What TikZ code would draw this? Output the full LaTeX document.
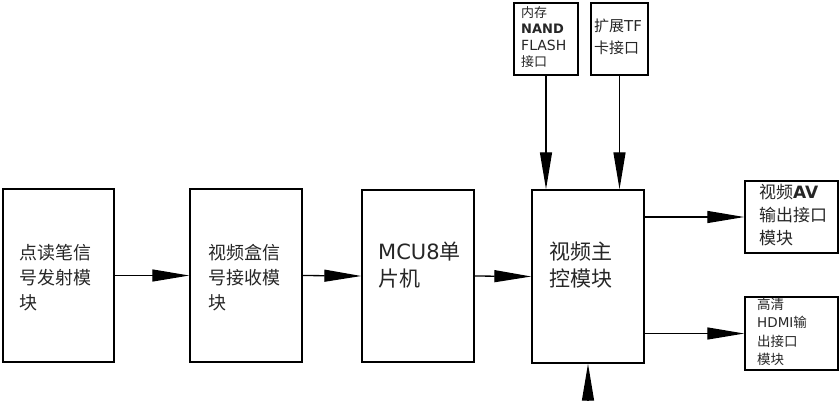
\documentclass[tikz,border=0pt]{standalone}
\usepackage{fontspec}
\setmainfont{Noto Sans CJK SC}
\newfontfamily\lat{DejaVu Sans}
\usetikzlibrary{arrows.meta}
\tikzset{
  blk/.style={draw, line width=1.4pt, rectangle, inner sep=0pt},
  lbl/.style={anchor=north west, align=left, inner sep=0pt, text=black!85},
  arr/.style={line width=1.3pt, -{Triangle[length=37pt,width=12pt]}},
}
\begin{document}
\begin{tikzpicture}[x=1pt,y=-1pt]
\useasboundingbox (0,0) rectangle (840,400);
\clip (0,0) rectangle (840,400);
% boxes
\node[blk, minimum width=111pt, minimum height=173pt] (b1) at (58.5,275.5) {};
\node[blk, minimum width=112pt, minimum height=173pt] (b2) at (246,275.5) {};
\node[blk, minimum width=112pt, minimum height=172pt] (mcu) at (418,276) {};
\node[blk, minimum width=112pt, minimum height=173pt] (main) at (588,276.5) {};
\node[blk, minimum width=64pt, minimum height=72pt] (nand) at (546,39) {};
\node[blk, minimum width=57pt, minimum height=72pt] (tf) at (619.5,39) {};
\node[blk, minimum width=93pt, minimum height=72pt] (av) at (791.5,217) {};
\node[blk, minimum width=93pt, minimum height=73pt] (hdmi) at (791.5,333.5) {};
% texts
\node[lbl, font=\fontsize{18}{25}\selectfont] (t1) at (19,244) {点读笔信\\号发射模\\块};
\node[lbl, font=\fontsize{18}{25}\selectfont] (t2) at (208,244) {视频盒信\\号接收模\\块};
\node[lbl, font=\fontsize{21}{27}\selectfont] (t3) at (378,242) {{\lat MCU8}单\\片机};
\node[lbl, font=\fontsize{21}{27}\selectfont] (t4) at (549,242) {视频主\\控模块};
\node[lbl, font=\fontsize{13}{16.5}\selectfont] (t5) at (521,6) {内存\\{\lat\bfseries NAND}\\{\lat\fontsize{14}{16.5}\selectfont FLASH}\\接口};
\node[lbl, font=\fontsize{15}{22}\selectfont] (t6) at (594,18.5) {扩展{\lat TF}\\卡接口};
\node[lbl, font=\fontsize{17}{23}\selectfont] (t7) at (759,184) {视频{\lat\bfseries AV}\\输出接口\\模块};
\node[lbl, font=\fontsize{13.5}{18.3}\selectfont] (t8) at (757,298) {高清\\{\lat HDMI}输\\出接口\\模块};
% connectors
\draw[arr] (b1.east) -- (b2.west);
\draw[arr] (b2.east) -- (mcu.west);
\draw[arr] (mcu.east) -- (main.west);
\draw[arr] (nand.south) -- (nand.south |- main.north);
\draw[arr] (tf.south) -- (tf.south |- main.north);
\draw[arr] (main.east |- av.west) -- (av.west);
\draw[arr] (main.east |- hdmi.west) -- (hdmi.west);
\coordinate (bin) at (588,415);
\draw[arr] (bin) -- (main.south);
\end{tikzpicture}
\end{document}
